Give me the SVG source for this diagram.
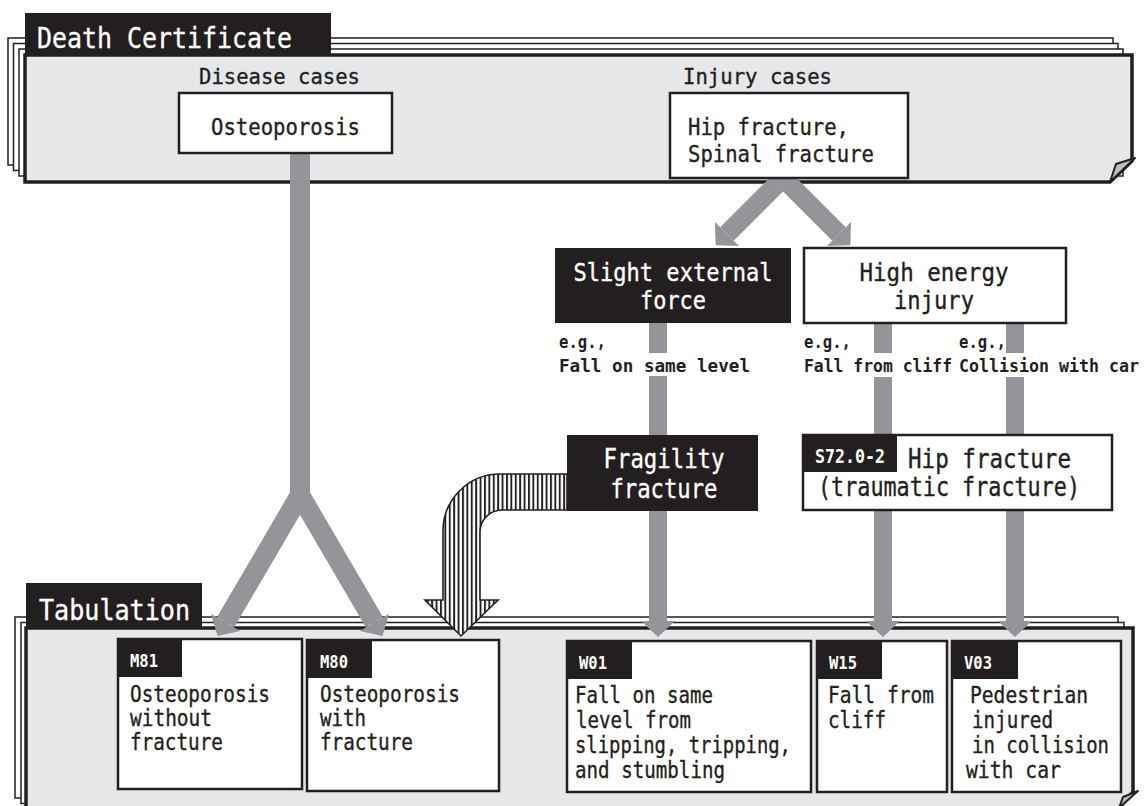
<svg xmlns="http://www.w3.org/2000/svg" width="1148" height="806" viewBox="0 0 1148 806">
<defs>
<style>
.t{font-family:"DejaVu Sans Mono","Liberation Mono",monospace;fill:#231f20;stroke:#231f20;stroke-width:0.35}
.w{fill:#fff;stroke:#fff}
.b{font-weight:bold;stroke-width:0}
.sheet{fill:#fff;stroke:#231f20;stroke-width:1.5}
.panel{fill:#e6e7e8;stroke:#231f20;stroke-width:3.5}
.fold{fill:#bcbec0;stroke:#231f20;stroke-width:2;stroke-linejoin:round}
.tab{fill:#231f20}
.box{fill:#fff;stroke:#231f20;stroke-width:2.5}
.dbox{fill:#231f20}
.g{fill:none;stroke:#939598;stroke-linejoin:miter;stroke-miterlimit:10}
.hatch{fill:url(#hatch);stroke:#231f20;stroke-width:1.6}
</style>
<marker id="ah" viewBox="0 0 16 34" refX="0" refY="17" markerWidth="16" markerHeight="34" markerUnits="userSpaceOnUse" orient="auto-start-reverse"><path d="M0,0 L16,17 L0,34 Z" fill="#939598"/></marker>
<pattern id="hatch" patternUnits="userSpaceOnUse" width="4.4" height="10"><rect width="4.4" height="10" fill="#fff"/><rect width="1.9" height="10" fill="#231f20"/></pattern>
</defs>
<rect width="1148" height="806" fill="#fff"/>

<g id="death-certificate">
<rect class="sheet" x="8" y="38" width="1105" height="127"/>
<rect class="sheet" x="13.5" y="43.5" width="1104.5" height="127"/>
<rect class="sheet" x="19" y="49" width="1104" height="127"/>
<path class="panel" d="M25,55 H1132 V161 L1110,182 H25 Z"/>
<polygon class="fold" points="1110,182 1116,164 1135,158"/>
<rect class="tab" x="25" y="13" width="306" height="43"/>
<text class="t w" x="37" y="48" font-size="28" textLength="255" lengthAdjust="spacingAndGlyphs">Death Certificate</text>
<text class="t" x="199" y="84" font-size="21" textLength="161" lengthAdjust="spacingAndGlyphs">Disease cases</text>
<text class="t" x="683" y="84" font-size="21" textLength="149" lengthAdjust="spacingAndGlyphs">Injury cases</text>
</g>

<g id="tabulation">
<rect class="sheet" x="15" y="617" width="1103" height="181"/>
<rect class="sheet" x="21" y="622.5" width="1103" height="181"/>
<path class="panel" d="M26,628 H1133 V792 L1119,808 H26 Z"/>
<polygon class="fold" points="1119,808 1123,797 1138,791"/>
<rect class="tab" x="26" y="583" width="176" height="46"/>
<text class="t w" x="39" y="620" font-size="28" textLength="151" lengthAdjust="spacingAndGlyphs">Tabulation</text>
</g>

<g id="connectors">
<path class="g" stroke-width="20" d="M300,153 V497"/>
<path class="g" stroke-width="20" d="M225.6,622.3 L300,495 L374.4,622.3" marker-start="url(#ah)" marker-end="url(#ah)"/>
<path class="g" stroke-width="19" d="M727,234 L783,178 L839,234" marker-start="url(#ah)" marker-end="url(#ah)"/>
<path class="g" stroke-width="18" d="M658,322 V353"/>
<path class="g" stroke-width="18" d="M658,376 V621" marker-end="url(#ah)"/>
<path class="g" stroke-width="18" d="M883,322 V353"/>
<path class="g" stroke-width="18" d="M883,377 V621" marker-end="url(#ah)"/>
<path class="g" stroke-width="18" d="M1015,322 V353"/>
<path class="g" stroke-width="18" d="M1015,377 V621" marker-end="url(#ah)"/>
<path class="hatch" d="M567,474 H500 A57,57 0 0 0 443,531 V600 H425 L461,636 L498,600 H480 V532 A22,22 0 0 1 502,510 H567 Z"/>
<g id="labels">
<text class="t b" x="559" y="348" font-size="17" textLength="47" lengthAdjust="spacingAndGlyphs">e.g.,</text>
<text class="t b" x="559" y="372" font-size="17" textLength="191" lengthAdjust="spacingAndGlyphs">Fall on same level</text>
<text class="t b" x="804" y="348" font-size="17" textLength="47" lengthAdjust="spacingAndGlyphs">e.g.,</text>
<text class="t b" x="804" y="372" font-size="17" textLength="148" lengthAdjust="spacingAndGlyphs">Fall from cliff</text>
<text class="t b" x="959" y="348" font-size="17" textLength="47" lengthAdjust="spacingAndGlyphs">e.g.,</text>
<text class="t b" x="959" y="372" font-size="17" textLength="180" lengthAdjust="spacingAndGlyphs">Collision with car</text>
</g>
</g>

<g id="osteoporosis">
<rect class="box" x="179" y="93" width="213" height="60"/>
<text class="t" x="285.5" y="135" font-size="23" text-anchor="middle" textLength="149" lengthAdjust="spacingAndGlyphs">Osteoporosis</text>
</g>

<g id="hip-spinal-fracture">
<rect class="box" x="670" y="93" width="238" height="85"/>
<text class="t" x="688" y="135" font-size="23" textLength="161" lengthAdjust="spacingAndGlyphs">Hip fracture,</text>
<text class="t" x="688" y="162" font-size="23" textLength="186" lengthAdjust="spacingAndGlyphs">Spinal fracture</text>
</g>

<g id="slight-external-force">
<rect class="dbox" x="555" y="248" width="236" height="75"/>
<text class="t w" x="673" y="281" font-size="24" text-anchor="middle" textLength="199" lengthAdjust="spacingAndGlyphs">Slight external</text>
<text class="t w" x="673" y="309" font-size="24" text-anchor="middle" textLength="66" lengthAdjust="spacingAndGlyphs">force</text>
</g>

<g id="high-energy-injury">
<rect class="box" x="804" y="248" width="262" height="75"/>
<text class="t" x="934" y="281" font-size="24" text-anchor="middle" textLength="149" lengthAdjust="spacingAndGlyphs">High energy</text>
<text class="t" x="934" y="309" font-size="24" text-anchor="middle" textLength="80" lengthAdjust="spacingAndGlyphs">injury</text>
</g>

<g id="fragility-fracture">
<rect class="dbox" x="567" y="435" width="191" height="76"/>
<text class="t w" x="664" y="468" font-size="26" text-anchor="middle" textLength="121" lengthAdjust="spacingAndGlyphs">Fragility</text>
<text class="t w" x="664" y="498" font-size="26" text-anchor="middle" textLength="107" lengthAdjust="spacingAndGlyphs">fracture</text>
</g>

<g id="s72-hip-fracture">
<rect class="box" x="803" y="435" width="309" height="75"/>
<rect class="dbox" x="803" y="435" width="94" height="37"/>
<text class="t w b" x="815" y="463" font-size="20" textLength="70" lengthAdjust="spacingAndGlyphs">S72.0-2</text>
<text class="t" x="908" y="468" font-size="26" textLength="163" lengthAdjust="spacingAndGlyphs">Hip fracture</text>
<text class="t" x="818" y="496" font-size="26" textLength="262" lengthAdjust="spacingAndGlyphs">(traumatic fracture)</text>
</g>

<g id="m81">
<rect class="box" x="118" y="639" width="184" height="150"/>
<rect class="dbox" x="118" y="639" width="64" height="38"/>
<text class="t w b" x="130" y="667" font-size="18" textLength="28" lengthAdjust="spacingAndGlyphs">M81</text>
<text class="t" x="130" y="702" font-size="22.5" textLength="140" lengthAdjust="spacingAndGlyphs">Osteoporosis</text>
<text class="t" x="130" y="726" font-size="22.5" textLength="82" lengthAdjust="spacingAndGlyphs">without</text>
<text class="t" x="130" y="750" font-size="22.5" textLength="93" lengthAdjust="spacingAndGlyphs">fracture</text>
</g>

<g id="m80">
<rect class="box" x="307" y="640" width="192" height="151"/>
<rect class="dbox" x="307" y="640" width="65" height="38"/>
<text class="t w b" x="320" y="668" font-size="18" textLength="28" lengthAdjust="spacingAndGlyphs">M80</text>
<text class="t" x="320" y="702" font-size="22.5" textLength="140" lengthAdjust="spacingAndGlyphs">Osteoporosis</text>
<text class="t" x="320" y="726" font-size="22.5" textLength="46" lengthAdjust="spacingAndGlyphs">with</text>
<text class="t" x="320" y="750" font-size="22.5" textLength="93" lengthAdjust="spacingAndGlyphs">fracture</text>
</g>

<g id="w01">
<rect class="box" x="567" y="641" width="244" height="151"/>
<rect class="dbox" x="567" y="641" width="65" height="38"/>
<text class="t w b" x="579" y="669" font-size="18" textLength="28" lengthAdjust="spacingAndGlyphs">W01</text>
<text class="t" x="575" y="703" font-size="22.5" textLength="138" lengthAdjust="spacingAndGlyphs">Fall on same</text>
<text class="t" x="576" y="728" font-size="22.5" textLength="115" lengthAdjust="spacingAndGlyphs">level from</text>
<text class="t" x="575" y="753" font-size="22.5" textLength="216" lengthAdjust="spacingAndGlyphs">slipping, tripping,</text>
<text class="t" x="575" y="778" font-size="22.5" textLength="150" lengthAdjust="spacingAndGlyphs">and stumbling</text>
</g>

<g id="w15">
<rect class="box" x="817" y="641" width="130" height="151"/>
<rect class="dbox" x="817" y="641" width="65" height="38"/>
<text class="t w b" x="829" y="669" font-size="18" textLength="28" lengthAdjust="spacingAndGlyphs">W15</text>
<text class="t" x="828" y="703" font-size="22.5" textLength="106" lengthAdjust="spacingAndGlyphs">Fall from</text>
<text class="t" x="828" y="728" font-size="22.5" textLength="58" lengthAdjust="spacingAndGlyphs">cliff</text>
</g>

<g id="v03">
<rect class="box" x="952" y="641" width="169" height="151"/>
<rect class="dbox" x="952" y="641" width="66" height="38"/>
<text class="t w b" x="964" y="669" font-size="18" textLength="28" lengthAdjust="spacingAndGlyphs">V03</text>
<text class="t" x="970" y="703" font-size="22.5" textLength="118" lengthAdjust="spacingAndGlyphs">Pedestrian</text>
<text class="t" x="972" y="728" font-size="22.5" textLength="81" lengthAdjust="spacingAndGlyphs">injured</text>
<text class="t" x="972" y="753" font-size="22.5" textLength="137" lengthAdjust="spacingAndGlyphs">in collision</text>
<text class="t" x="966" y="778" font-size="22.5" textLength="95" lengthAdjust="spacingAndGlyphs">with car</text>
</g>
</svg>
